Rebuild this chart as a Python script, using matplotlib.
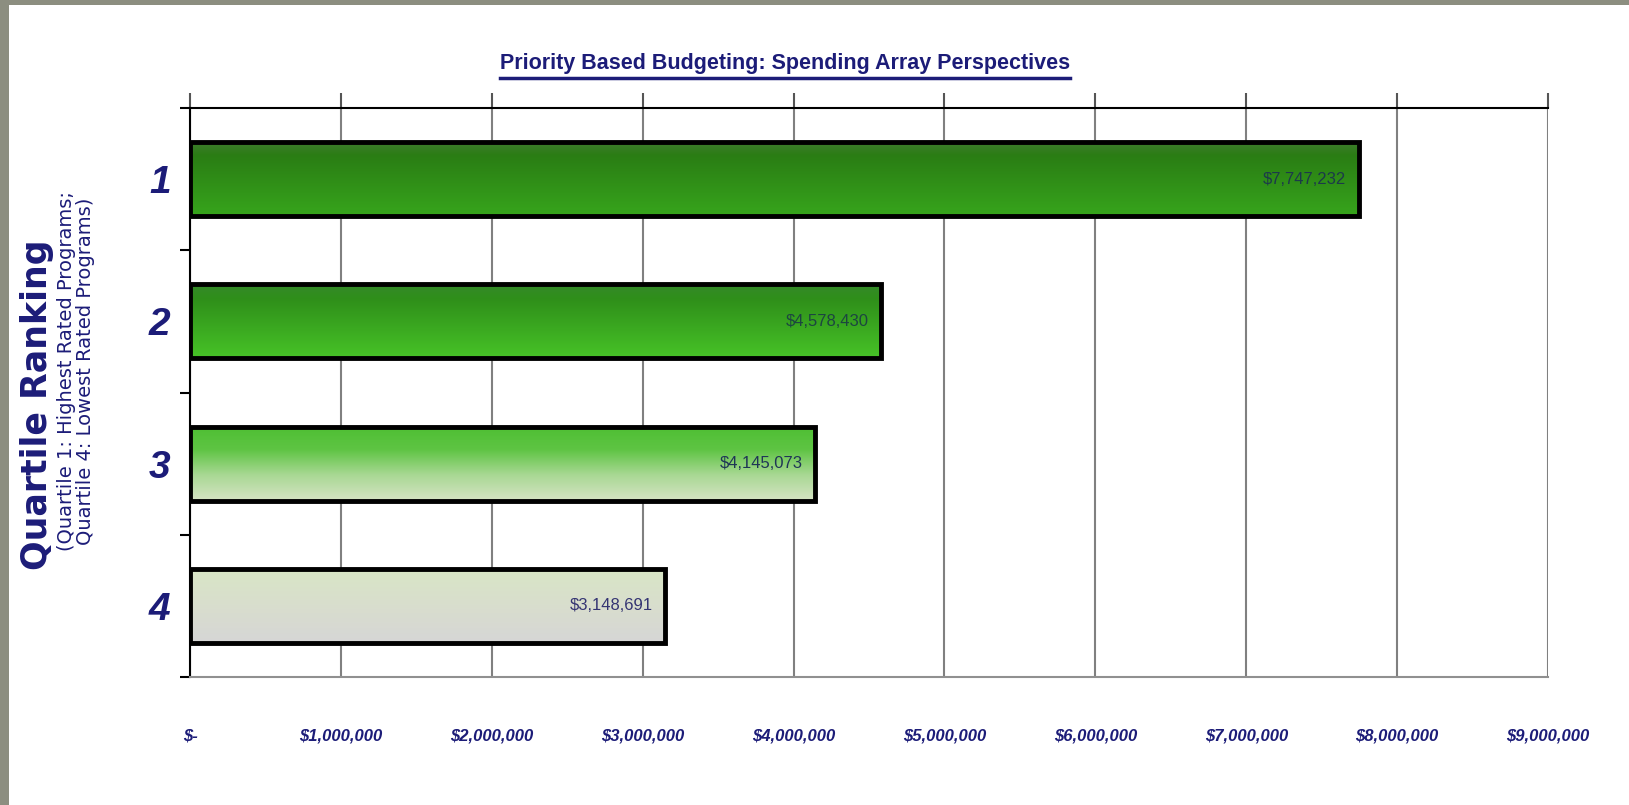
import matplotlib
matplotlib.use("Agg")
import matplotlib.pyplot as plt
import numpy as np
from matplotlib.colors import LinearSegmentedColormap
from matplotlib.patches import Rectangle
from matplotlib.lines import Line2D

# data
quartiles = ['1', '2', '3', '4']
spending = [7747232, 4578430, 4145073, 3148691]
value_labels = ['$7,747,232', '$4,578,430', '$4,145,073', '$3,148,691']
x_ticks = [0, 1e6, 2e6, 3e6, 4e6, 5e6, 6e6, 7e6, 8e6, 9e6]
x_tick_labels = ['$-', '$1,000,000', '$2,000,000', '$3,000,000', '$4,000,000',
                 '$5,000,000', '$6,000,000', '$7,000,000', '$8,000,000', '$9,000,000']

# gradient stops for each bar (top -> bottom)
bar_grads = [
    [(0.0, '#3f7c2e'), (0.18, '#2a7d14'), (1.0, '#37a51c')],
    [(0.0, '#35892a'), (0.2, '#2f8f1a'), (1.0, '#47c327')],
    [(0.0, '#4fbf34'), (0.3, '#5ec443'), (0.65, '#a9d894'), (1.0, '#d6e4c4')],
    [(0.0, '#d9e6c6'), (0.6, '#d8dccf'), (1.0, '#d6d6d6')],
]
label_colors = ['#1c3a4a', '#1c4640', '#1f3556', '#343472']

navy = '#1c1c78'
narrow = ['Liberation Sans Narrow', 'Liberation Sans', 'DejaVu Sans']

fig = plt.figure(figsize=(16.29, 8.05), dpi=100)
fig.patch.set_facecolor('#8c8e80')
# white page inside the grey frame
fig.add_artist(Rectangle((9/1629, 0), 1, 1 - 5/805, transform=fig.transFigure,
                         facecolor='white', edgecolor='none', zorder=-10))

ax = fig.add_axes([190/1629, 1 - 677/805, (1548-190)/1629, (677-108)/805])
ax.set_facecolor('none')

ypos = np.arange(1, len(quartiles) + 1)
h = 0.52
for i, (y, v) in enumerate(zip(ypos, spending)):
    cmap = LinearSegmentedColormap.from_list('g%d' % i, bar_grads[i])
    grad = np.linspace(0, 1, 256).reshape(-1, 1)
    ax.imshow(grad, cmap=cmap, aspect='auto', origin='upper',
              extent=[0, v, y + h/2, y - h/2], zorder=2)
ax.barh(ypos, spending, height=h, fill=False, edgecolor='black', linewidth=3.5, zorder=3)

for y, v, t, c in zip(ypos, spending, value_labels, label_colors):
    ax.annotate(t, xy=(v, y), xytext=(-9, 0), textcoords='offset points',
                ha='right', va='center', fontsize=12, color=c,
                family=narrow, zorder=4)

ax.set_xlim(0, 9e6)
ax.set_ylim(4.5, 0.5)

# vertical grid
ax.set_xticks(x_ticks)
ax.xaxis.grid(True, color='#808080', linewidth=1.5, zorder=0)
ax.set_axisbelow(True)
ax.tick_params(axis='x', bottom=False, top=True, labelbottom=True, labeltop=False,
               direction='out', length=11, width=1.5, color='#555555', pad=26)
ax.set_xticklabels(x_tick_labels, fontsize=12, fontweight='bold', fontstyle='italic',
                   color=navy, family=narrow)

# y ticks: boundary marks + category labels
ax.set_yticks([0.5, 1.5, 2.5, 3.5, 4.5])
ax.set_yticklabels([])
ax.tick_params(axis='y', direction='out', length=7, width=1.5, color='black')
ax.set_yticks(ypos, minor=True)
ax.set_yticklabels(quartiles, minor=True, fontsize=28, fontweight='bold',
                   fontstyle='italic', color=navy, family=narrow)
ax.tick_params(axis='y', which='minor', length=0, pad=14)

for s in ['top', 'left']:
    ax.spines[s].set_color('black')
    ax.spines[s].set_linewidth(1.5)
ax.spines['bottom'].set_color('#909090')
ax.spines['bottom'].set_linewidth(1.5)
ax.spines['right'].set_visible(False)

# axis titles
fig.text(37/1629, 1 - 405/805, 'Quartile Ranking', rotation=90, ha='center', va='center',
         fontsize=25, fontweight='bold', color=navy, family='DejaVu Sans')
fig.text(76/1629, 1 - 371/805,
         '(Quartile 1: Highest Rated Programs;\nQuartile 4: Lowest Rated Programs)',
         rotation=90, ha='center', va='center', fontsize=14, color=navy,
         family='DejaVu Sans', linespacing=0.95)

# title with underline
title = fig.text(785/1629, 1 - 63/805, 'Priority Based Budgeting: Spending Array Perspectives',
                 ha='center', va='center', fontsize=15.5, fontweight='bold', color=navy,
                 family=narrow)
fig.canvas.draw()
bb = title.get_window_extent().transformed(fig.transFigure.inverted())
fig.add_artist(Line2D([bb.x0, bb.x1], [bb.y0 - 0.006, bb.y0 - 0.006],
                      transform=fig.transFigure, color=navy, linewidth=2.5))

fig.savefig('out.png', dpi=100, facecolor=fig.get_facecolor())
